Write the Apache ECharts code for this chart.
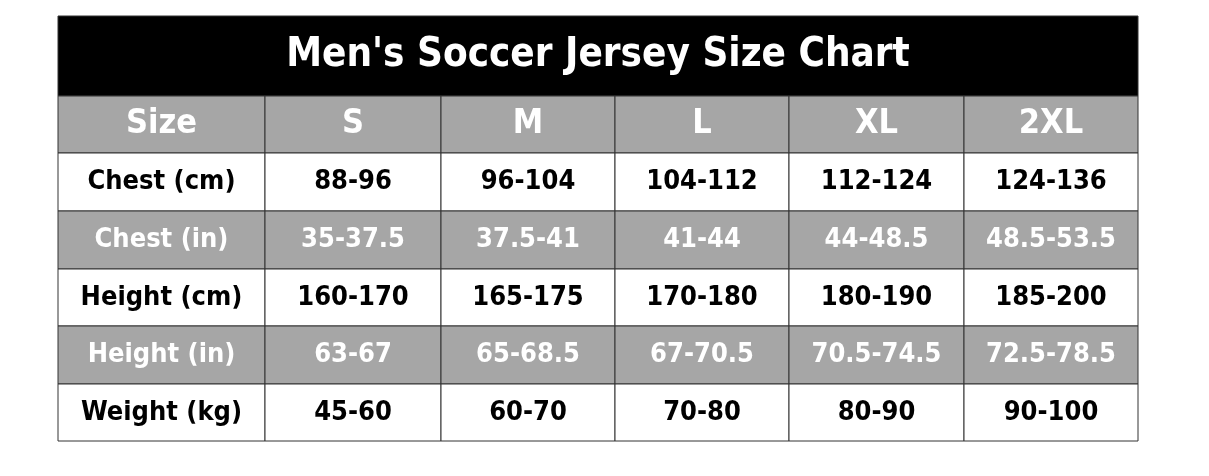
<!DOCTYPE html>
<html><head><meta charset="utf-8">
<script src="https://cdn.jsdelivr.net/npm/echarts@6/dist/echarts.min.js"></script>
<style>html,body{margin:0;background:#fff}#c{width:1209px;height:476px}</style>
</head><body><div id="c"></div>
<script>
var title = "Men's Soccer Jersey Size Chart";
var sizes = ['Size', 'S', 'M', 'L', 'XL', '2XL'];
var rowLabels = ['Chest (cm)', 'Chest (in)', 'Height (cm)', 'Height (in)', 'Weight (kg)'];
var chestCm = ['88-96', '96-104', '104-112', '112-124', '124-136'];
var chestIn = ['35-37.5', '37.5-41', '41-44', '44-48.5', '48.5-53.5'];
var heightCm = ['160-170', '165-175', '170-180', '180-190', '185-200'];
var heightIn = ['63-67', '65-68.5', '67-70.5', '70.5-74.5', '72.5-78.5'];
var weightKg = ['45-60', '60-70', '70-80', '80-90', '90-100'];
var rowsData = [chestCm, chestIn, heightCm, heightIn, weightKg];

// layout edges (axis units)
var colEdges = [0, 207, 383, 557, 731, 906, 1080];
var rowEdges = [0, 80, 137, 195, 253, 310, 368, 425];

var cells = [];
cells.push([0, 0, title, 'title']);
sizes.forEach(function (s, c) { cells.push([c, 1, s, 'head']); });
rowsData.forEach(function (vals, r) {
  var kind = r % 2 === 1 ? 'gray' : 'white';
  cells.push([0, r + 2, rowLabels[r], kind]);
  vals.forEach(function (v, c) { cells.push([c + 1, r + 2, v, kind]); });
});

var FONT = '"DejaVu Sans Condensed", "DejaVu Sans", sans-serif';
var chart = echarts.init(document.getElementById('c'));
chart.setOption({
  animation: false,
  grid: { left: 58, right: 71, top: 16, bottom: 35 },
  xAxis: { type: 'value', min: 0, max: 1080, show: false },
  yAxis: { type: 'value', min: 0, max: 425, inverse: true, show: false },
  series: [{
    type: 'custom',
    data: cells,
    renderItem: function (params, api) {
      var c = api.value(0), r = api.value(1);
      var d = cells[params.dataIndex];
      var kind = d[3];
      var x0 = kind === 'title' ? 0 : colEdges[c];
      var x1 = kind === 'title' ? 1080 : colEdges[c + 1];
      var p0 = api.coord([x0, rowEdges[r]]);
      var p1 = api.coord([x1, rowEdges[r + 1]]);
      var fill = kind === 'title' ? '#000' : (kind === 'white' ? '#fff' : '#a6a6a6');
      var color = kind === 'white' ? '#000' : '#fff';
      var size = kind === 'title' ? 40 : (kind === 'head' ? 34 : 27);
      return {
        type: 'group',
        children: [{
          type: 'rect',
          shape: { x: p0[0], y: p0[1], width: p1[0] - p0[0], height: p1[1] - p0[1] },
          style: { fill: fill, stroke: '#333', lineWidth: 1 }
        }, {
          type: 'text',
          style: {
            x: (p0[0] + p1[0]) / 2, y: (p0[1] + p1[1]) / 2,
            text: d[2], fill: color, align: 'center', verticalAlign: 'middle',
            font: 'bold ' + size + 'px ' + FONT
          }
        }]
      };
    }
  }]
});
</script></body></html>
